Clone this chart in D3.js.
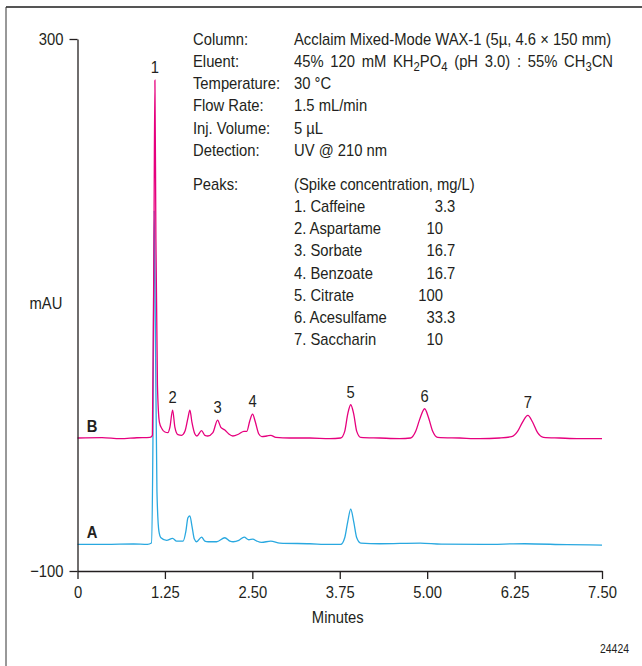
<!DOCTYPE html>
<html>
<head>
<meta charset="utf-8">
<script src="https://cdn.jsdelivr.net/npm/d3@7"></script>
<style>
  html, body { margin: 0; padding: 0; background: #fff; }
  svg { display: block; }
  text { font-family: "Liberation Sans", Arial, sans-serif; fill: #231f20; }
</style>
</head>
<body>
<svg id="chart" width="642" height="666"></svg>
<script>
// Axis ticks
const xTickValues = [0, 1.25, 2.5, 3.75, 5, 6.25, 7.5];
const xTickLabels = ["0", "1.25", "2.50", "3.75", "5.00", "6.25", "7.50"];
const yTickValues = [-100, 300];
const yTickLabels = ["\u2212100", "300"];

// Trace B (spiked sample): [minutes, mAU]
const traceB = [
  [0, 0], [0.35, 0.3], [0.61, -0.5], [0.85, 0.2], [1.036, 0.5], [1.071, 2],
  [1.093, 150], [1.107, 269], [1.121, 150], [1.143, 40], [1.171, 12], [1.207, 7],
  [1.25, 4.5], [1.293, 4], [1.321, 8], [1.36, 21], [1.393, 8], [1.436, 2.5],
  [1.489, 2], [1.536, 5], [1.579, 15], [1.607, 21], [1.636, 12], [1.679, 3],
  [1.707, 1.5], [1.774, 5.5], [1.821, 2], [1.864, 1.5], [1.936, 4], [2.003, 13.5],
  [2.05, 8], [2.107, 6], [2.164, 3], [2.221, 1.5], [2.307, 3], [2.379, 5],
  [2.421, 5], [2.464, 13], [2.503, 18], [2.543, 12], [2.593, 3], [2.636, 1],
  [2.707, 1.5], [2.764, 2], [2.836, 0.5], [3.036, 0], [3.321, 0], [3.607, -0.5],
  [3.764, 0], [3.821, 5], [3.864, 18], [3.907, 25], [3.95, 18], [3.993, 5],
  [4.05, 0.5], [4.321, 0], [4.607, -0.5], [4.764, 0], [4.836, 5], [4.893, 14],
  [4.964, 22], [5.021, 15], [5.079, 5], [5.15, 0.5], [5.464, 0], [5.75, -0.5],
  [6.036, 0], [6.207, 1], [6.293, 5], [6.364, 12], [6.44, 17], [6.507, 12],
  [6.579, 4], [6.664, 0.5], [6.893, 0], [7.179, -0.5], [7.5, -0.5]
];

// Trace A (unspiked sample): [minutes, mAU]
const traceA = [
  [0, -80], [0.4, -80], [0.8, -79.7], [1.0, -80], [1.057, -79], [1.079, 0],
  [1.097, 171], [1.114, 80], [1.136, -40], [1.164, -70], [1.193, -75], [1.274, -77],
  [1.36, -75.4], [1.417, -77.5], [1.511, -77.5], [1.55, -70], [1.579, -60], [1.607, -58.5],
  [1.636, -66], [1.671, -76], [1.703, -78], [1.774, -74.5], [1.821, -77.5], [1.869, -78],
  [1.989, -78], [2.107, -75], [2.179, -77.5], [2.226, -78], [2.307, -77], [2.383, -74.5],
  [2.45, -76.5], [2.507, -76], [2.564, -77.5], [2.631, -78.5], [2.764, -77.5], [2.893, -79],
  [3.321, -79.5], [3.607, -80], [3.764, -80], [3.821, -75], [3.864, -63], [3.907, -53.5],
  [3.95, -63], [3.993, -75], [4.05, -79], [4.321, -79.5], [4.9, -79], [5.2, -79.8],
  [5.8, -80], [6.393, -79.5], [7.0, -80.2], [7.5, -80.5]
];

// Numbered peaks on trace B: [number, minutes, mAU at apex]
const peakNumbers = ["1", "2", "3", "4", "5", "6", "7"];
const peakTimes = [1.107, 1.36, 2.003, 2.503, 3.907, 4.964, 6.44];
const peakHeights = [269, 21, 13.5, 18, 25, 22, 17];

// Chromatographic conditions
const conditionNames = ["Column:", "Eluent:", "Temperature:", "Flow Rate:", "Inj. Volume:", "Detection:"];
const conditionValues = [
  [["Acclaim Mixed-Mode WAX-1 (5\u00b5, 4.6 \u00d7 150 mm)"]],
  [["45% 120 mM KH"], ["2", "sub"], ["PO"], ["4", "sub"], [" (pH 3.0) : 55% CH"], ["3", "sub"], ["CN"]],
  [["30 \u00b0C"]],
  [["1.5 mL/min"]],
  [["5 \u00b5L"]],
  [["UV @ 210 nm"]]
];

// Peak identities and spike concentrations (mg/L)
const analyteNames = ["1. Caffeine", "2. Aspartame", "3. Sorbate", "4. Benzoate", "5. Citrate", "6. Acesulfame", "7. Saccharin"];
const analyteConc = ["3.3", "10", "16.7", "16.7", "100", "33.3", "10"];

const svg = d3.select("#chart");
const magenta = "#e6007e";
const cyan = "#29a8e0";
const FS = 17;          // main text size
const NARROW = 0.87;    // horizontal condensing of the type

// Outer frame (top and left edges)
svg.append("line").attr("x1", 6).attr("x2", 642).attr("y1", 7).attr("y2", 7)
  .attr("stroke", "#555").attr("stroke-width", 2);
svg.append("line").attr("x1", 6).attr("x2", 6).attr("y1", 7).attr("y2", 666)
  .attr("stroke", "#333").attr("stroke-width", 1);

const x = d3.scaleLinear().domain([0, 7.5]).range([77.5, 602]);
const y = d3.scaleLinear().domain([-100, 300]).range([571, 39]);

const line = d3.line()
  .x(d => x(d[0]))
  .y(d => y(d[1]))
  .curve(d3.curveMonotoneX);

// Traces: A first, B drawn on top
svg.append("path").datum(traceA)
  .attr("d", line).attr("fill", "none").attr("stroke", cyan).attr("stroke-width", 1.3);
svg.append("path").datum(traceB)
  .attr("d", line).attr("fill", "none").attr("stroke", magenta).attr("stroke-width", 1.3);

// Axes
const xAxis = d3.axisBottom(x)
  .tickValues(xTickValues)
  .tickFormat((d, i) => xTickLabels[i])
  .tickSize(8).tickSizeOuter(0).tickPadding(7);
const gx = svg.append("g").attr("transform", `translate(0,${y(-100)})`).call(xAxis);

const yAxis = d3.axisLeft(y)
  .tickValues(yTickValues)
  .tickFormat((d, i) => yTickLabels[i])
  .tickSize(8).tickSizeOuter(0).tickPadding(6);
const gy = svg.append("g").attr("transform", `translate(${x(0)},0)`).call(yAxis);

[gx, gy].forEach(g => {
  g.attr("font-family", null).attr("font-size", null);
  g.selectAll("path, line").attr("stroke", "#231f20").attr("stroke-width", 1.3);
  g.selectAll("text").attr("font-size", FS).attr("fill", "#231f20");
});

// Axis titles
svg.append("text").attr("x", x(3.75) - 2).attr("y", 623)
  .attr("text-anchor", "middle").attr("font-size", FS).text("Minutes");
svg.append("text").attr("x", 46).attr("y", 309)
  .attr("text-anchor", "middle").attr("font-size", FS).text("mAU");

// Trace identifiers
svg.append("text").attr("x", 92).attr("y", y(0) - 6)
  .attr("text-anchor", "middle").attr("font-size", FS).attr("font-weight", "bold").text("B");
svg.append("text").attr("x", 92).attr("y", y(-80) - 6)
  .attr("text-anchor", "middle").attr("font-size", FS).attr("font-weight", "bold").text("A");

// Peak numbers above trace B
svg.append("g").selectAll("text").data(peakNumbers).join("text")
  .attr("x", (d, i) => x(peakTimes[i]))
  .attr("y", (d, i) => y(peakHeights[i]) - 7)
  .attr("text-anchor", "middle").attr("font-size", FS).text(d => d);

// Conditions block
const labelX = 193, valueX = 294;
const condRowY = [45, 67, 89, 111, 134, 156];
const cond = svg.append("g").attr("font-size", FS);
conditionNames.forEach((name, i) => {
  cond.append("text").attr("x", labelX).attr("y", condRowY[i]).text(name);
  const t = cond.append("text").attr("x", valueX).attr("y", condRowY[i])
    .attr("word-spacing", conditionValues[i].length > 1 ? 3 : 0);
  let shifted = false;
  conditionValues[i].forEach(seg => {
    if (seg[1] === "sub") {
      t.append("tspan").attr("font-size", 13).attr("dy", 4).text(seg[0]);
      shifted = true;
    } else {
      const ts = t.append("tspan").text(seg[0]);
      if (shifted) { ts.attr("dy", -4); shifted = false; }
    }
  });
});

// Peaks block
const peakHeaderY = 190;
const peakRowY = [212, 234, 256, 279, 301, 323, 345];
cond.append("text").attr("x", labelX).attr("y", peakHeaderY).text("Peaks:");
cond.append("text").attr("x", valueX).attr("y", peakHeaderY).text("(Spike concentration, mg/L)");
const decimalX = 443;
analyteNames.forEach((name, i) => {
  cond.append("text").attr("x", valueX).attr("y", peakRowY[i]).text(name);
  const parts = analyteConc[i].split(".");
  cond.append("text").attr("x", decimalX).attr("y", peakRowY[i])
    .attr("text-anchor", "end").text(parts[0]);
  if (parts.length > 1) {
    cond.append("text").attr("x", decimalX).attr("y", peakRowY[i]).text("." + parts[1]);
  }
});

// Figure number
svg.append("text").attr("x", 629).attr("y", 653)
  .attr("text-anchor", "end").attr("font-size", 12).text("24424");

// Condensed type: squeeze every label horizontally about its own anchor x
svg.selectAll("text").each(function() {
  const ax = +this.getAttribute("x") || 0;
  this.setAttribute("transform",
    `translate(${ax},0) scale(${NARROW},1) translate(${-ax},0)`);
});
</script>
</body>
</html>
